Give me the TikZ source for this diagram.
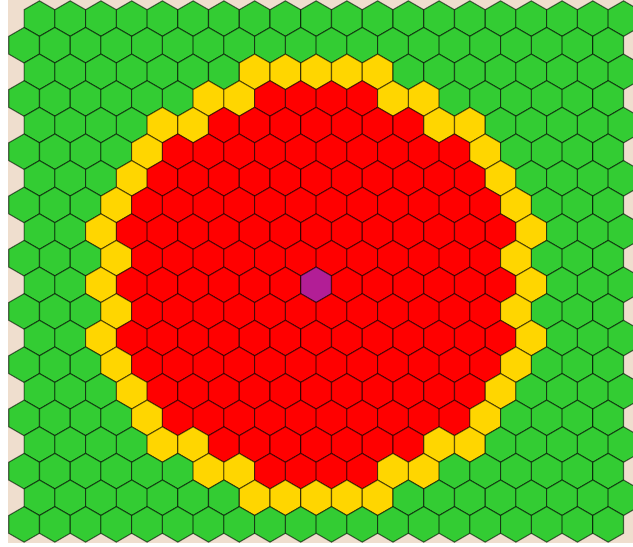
\documentclass[tikz,border=0pt]{standalone}
\usepackage{tikz}
\usepackage{xcolor}
\definecolor{hexgreen}{RGB}{51,204,51}
\definecolor{hexgold}{RGB}{255,214,0}
\definecolor{hexred}{RGB}{255,0,0}
\definecolor{hexpurple}{RGB}{178,30,150}
\definecolor{sand}{RGB}{239,222,206}

\begin{document}
\begin{tikzpicture}[x=1pt,y=-1pt,
  hexcell/.style={draw=black,draw opacity=0.55,line width=1.1pt,line join=miter}]
\useasboundingbox (0,0) rectangle (633,547);
\fill[white] (0,0) rectangle (633,547);
\fill[sand] (8,0) rectangle (633,543);
\clip (0,0) rectangle (633,547);
\foreach \r in {0,...,19}{
  \foreach \c in {0,...,19}{
    \pgfmathsetmacro{\cx}{24.1+30.74*\c+15.37*(1-mod(\r,2))}
    \pgfmathsetmacro{\cy}{18.6+26.62*\r}
    \pgfmathtruncatemacro{\dx}{2*\c+1-mod(\r,2)-19}
    \pgfmathtruncatemacro{\dd}{\dx*\dx+3*(\r-10)*(\r-10)}
    \ifnum\dd=0 \def\hexcol{hexpurple}\else
      \ifnum\dd<164 \def\hexcol{hexred}\else
        \ifnum\dd<220 \def\hexcol{hexgold}\else
          \def\hexcol{hexgreen}\fi\fi\fi
    \draw[hexcell,fill=\hexcol] (\cx,\cy) +(90:17.75) -- +(30:17.75) -- +(-30:17.75)
      -- +(-90:17.75) -- +(-150:17.75) -- +(150:17.75) -- cycle;
  }
}
\end{tikzpicture}
\end{document}
